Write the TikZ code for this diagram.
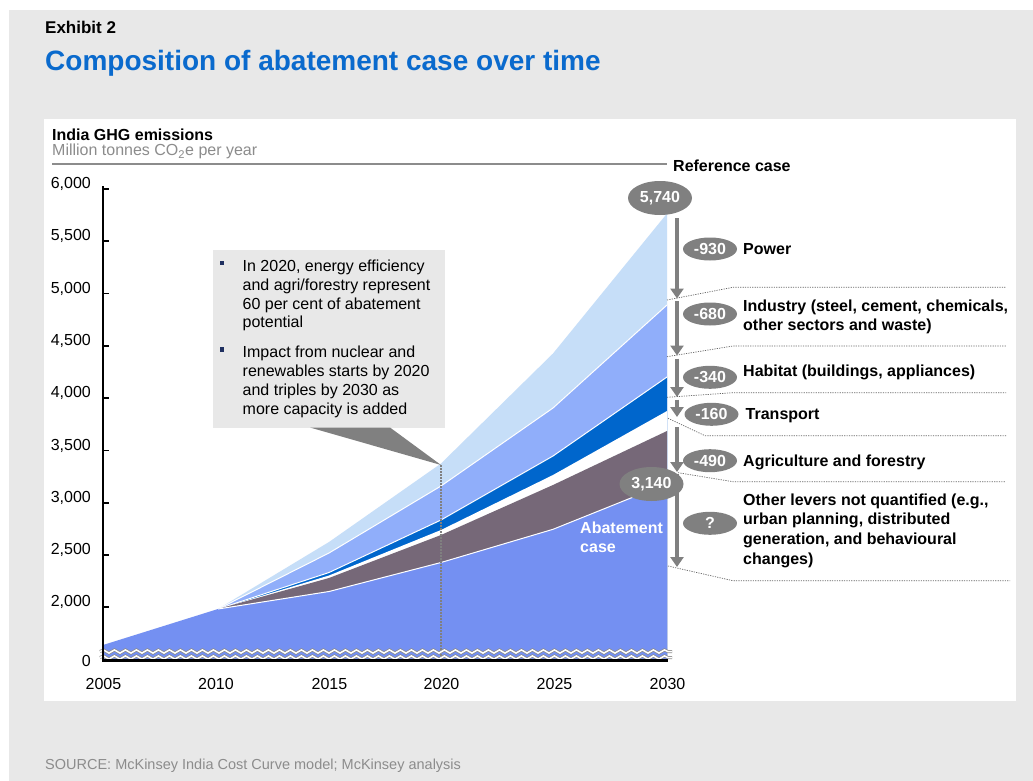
\documentclass[tikz,border=0pt]{standalone}
\usepackage{fontspec}
\setmainfont{Liberation Sans}
\usetikzlibrary{shapes.geometric,arrows.meta,decorations.pathmorphing}
\definecolor{bggray}{HTML}{E8E8E8}
\definecolor{boxgray}{HTML}{E8E8E8}
\definecolor{ltblue}{HTML}{C6DEF8}
\definecolor{midblue}{HTML}{90AEFA}
\definecolor{dkblue}{HTML}{0066CC}
\definecolor{mauve}{HTML}{766878}
\definecolor{abblue}{HTML}{7490F2}
\definecolor{pillgray}{HTML}{808080}
\definecolor{titleblue}{HTML}{0A6ACD}
\definecolor{srcgray}{HTML}{8C8C8C}
\definecolor{navy}{HTML}{1F3060}
\begin{document}
\begin{tikzpicture}[x=1pt,y=-1pt,
  txt/.style={inner sep=0pt, anchor=base west, font=\fontsize{16}{19}\selectfont},
  lbl/.style={txt, font=\fontsize{16}{19}\selectfont\bfseries},
  ytick/.style={inner sep=0pt, anchor=base east, font=\fontsize{16}{19}\selectfont},
  xtick/.style={inner sep=0pt, anchor=base, font=\fontsize{16}{19}\selectfont},
  pill/.style={ellipse, fill=pillgray, text=white, inner sep=0pt, minimum width=54pt, minimum height=23pt, font=\fontsize{16}{19}\selectfont\bfseries},
  bigpill/.style={pill, minimum width=64pt, minimum height=34pt},
  drop/.style={draw=pillgray, line width=4pt, -{Triangle[width=13pt,length=10pt]}},
  guide/.style={draw=black!60, line width=0.7pt, dash pattern=on 1.2pt off 1.2pt},
  sep/.style={draw=white, line width=1pt},
  wave/.style={decorate, decoration={snake, segment length=11pt, amplitude=1.6pt}},
  bullet/.style={fill=navy, minimum size=4.8pt, inner sep=0pt}
]
\useasboundingbox (0,0) rectangle (1033,781);
\fill[white] (0,0) rectangle (1033,781);
\fill[bggray] (9,10) rectangle (1033,781);
\fill[white] (44,119) rectangle (1016,701);

% titles
\node[lbl, font=\fontsize{17}{20}\selectfont\bfseries] (exh) at (45,33.5) {Exhibit 2};
\node[lbl, font=\fontsize{28}{32}\selectfont\bfseries, text=titleblue] (title) at (45,71) {Composition of abatement case over time};
\node[lbl] (ylab) at (52,140) {India GHG emissions};
\node[txt, text=srcgray] (yunit) at (52,156) {Million tonnes CO\textsubscript{2}e per year};
\node[txt, font=\fontsize{14.5}{17}\selectfont, text=srcgray] (src) at (45,769) {SOURCE: McKinsey India Cost Curve model; McKinsey analysis};

% reference line
\coordinate (refL) at (52,164);
\coordinate (refR) at (667,164);
\draw[srcgray, line width=1.6pt] (refL) -- (refR);
\node[lbl] (refcase) at (673,171.5) {Reference case};

% stacked areas
\fill[ltblue] (218,609) -- (329,542) -- (441,463.5) -- (553,353.5) -- (667,213.5) -- (667,660) -- (218,660) -- cycle;
\fill[midblue] (218,609) -- (329,553) -- (441,486) -- (553,408) -- (667,305) -- (667,660) -- (218,660) -- cycle;
\draw[sep] (218,609) -- (329,553) -- (441,486) -- (553,408) -- (667,305);
\fill[dkblue] (218,609) -- (329,572.5) -- (441,520) -- (553,456) -- (667,377) -- (667,660) -- (218,660) -- cycle;
\draw[sep] (218,609) -- (329,572.5) -- (441,520) -- (553,456) -- (667,377);
\fill[white] (218,609) -- (329,575.5) -- (441,530) -- (553,475) -- (667,411) -- (667,660) -- (218,660) -- cycle;
\fill[mauve] (218,609) -- (329,578) -- (441,535) -- (553,485) -- (667,431) -- (667,660) -- (218,660) -- cycle;
\fill[abblue] (103,645) -- (218,609) -- (329,591.5) -- (441,562.5) -- (553,529.3) -- (667,483.5) -- (667,660) -- (103,660) -- cycle;
\draw[sep] (218,609) -- (329,591.5) -- (441,562.5) -- (553,529.3) -- (667,483.5);

% 2020 marker
\coordinate (mkTop) at (441,465);
\coordinate (mkBot) at (441,660);
\draw[black!50, line width=1.3pt, dash pattern=on 1.5pt off 1.5pt] (mkTop) -- (mkBot);

% axis break waves
\draw[wave, black!45, line width=3pt] (100,651.5) -- (672,651.5);
\draw[wave, white, line width=1.5pt] (100,651.5) -- (672,651.5);
\draw[wave, black!45, line width=3pt] (100,657.5) -- (672,657.5);
\draw[wave, white, line width=1.5pt] (100,657.5) -- (672,657.5);

% axes
\coordinate (yTop) at (103,186);
\coordinate (yBot) at (103,661.5);
\coordinate (xR) at (668,660.5);
\draw[black, line width=2pt] (yTop) -- (yBot);
\draw[black, line width=2.6pt] (102,660.5) -- (xR);
\foreach \v/\yy in {6{,}000/189, 5{,}500/241, 5{,}000/293.5, 4{,}500/346, 4{,}000/398, 3{,}500/450.5, 3{,}000/503, 2{,}500/555, 2{,}000/607}{
  \draw[black, line width=1.5pt] (103,\yy) -- (108.5,\yy);
  \node[ytick] at (91,\yy-0.5) {\v};
}
\node[ytick] (y0) at (91,666.5) {0};
\foreach \yr/\xx in {2005/103.5, 2010/216, 2015/329.5, 2020/441.5, 2025/554.5, 2030/667.5}{
  \node[xtick] (yr\yr) at (\xx,689.5) {\yr};
}

% callout
\fill[boxgray] (213,250) rectangle (445,427.5);
\fill[pillgray] (310,427.5) -- (390,427.5) -- (mkTop) -- cycle;
\node[bullet] (b1) at (222,263) {};
\node[bullet] (b2) at (222,349.5) {};
\node[txt] (c1) at (242.5,271) {In 2020, energy efficiency};
\node[txt] (c2) at (242.5,290) {and agri/forestry represent};
\node[txt] (c3) at (242.5,309) {60 per cent of abatement};
\node[txt] (c4) at (242.5,327.5) {potential};
\node[txt] (c5) at (242.5,357.5) {Impact from nuclear and};
\node[txt] (c6) at (242.5,376.5) {renewables starts by 2020};
\node[txt] (c7) at (242.5,395.5) {and triples by 2030 as};
\node[txt] (c8) at (242.5,414.5) {more capacity is added};

% abatement label
\node[lbl, text=white] (ab1) at (580,533.3) {Abatement};
\node[lbl, text=white] (ab2) at (580,552.7) {case};

% guides
\draw[guide] (667,300) -- (733,287.3) -- (1006,287.3);
\draw[guide] (667,356.7) -- (733,346) -- (1006,346);
\draw[guide] (667,397.3) -- (733,392.7) -- (1006,392.7);
\draw[guide] (668,418.3) -- (705,435.7) -- (1006,435.7);
\draw[guide] (678,472.7) -- (733,481.7) -- (1006,481.7);
\draw[guide] (668,566) -- (733,580.7) -- (1010,580.7);

% pills
\node[bigpill] (p5740) at (660,198) {5,740};
\node[bigpill] (p3140) at (651.5,484) {3,140};
\node[pill] (p930) at (710,249) {-930};
\node[pill] (p680) at (710,314) {-680};
\node[pill] (p340) at (710,377.3) {-340};
\node[pill] (p160) at (711.5,414.3) {-160};
\node[pill] (p490) at (710,460.7) {-490};
\node[pill] (pq) at (710,523.3) {?};

% arrows
\coordinate (a1s) at (677,218); \coordinate (a1e) at (677,298.5);
\coordinate (a2s) at (677,301); \coordinate (a2e) at (677,355.5);
\coordinate (a3s) at (677,358.5); \coordinate (a3e) at (677,397);
\coordinate (a4s) at (677,399.5); \coordinate (a4e) at (677,417);
\coordinate (a5s) at (677,427); \coordinate (a5e) at (677,472);
\coordinate (a6s) at (677,474); \coordinate (a6e) at (677,567);
\draw[drop] (a1s) -- (a1e);
\draw[drop] (a2s) -- (a2e);
\draw[drop] (a3s) -- (a3e);
\draw[drop] (a4s) -- (a4e);
\draw[drop] (a5s) -- (a5e);
\draw[drop] (a6s) -- (a6e);

% labels
\node[lbl] (lpow) at (743,254.3) {Power};
\node[lbl] (lind1) at (743,311.7) {Industry (steel, cement, chemicals,};
\node[lbl] (lind2) at (743,330.3) {other sectors and waste)};
\node[lbl] (lhab) at (743,376) {Habitat (buildings, appliances)};
\node[lbl] (ltra) at (745.5,419) {Transport};
\node[lbl] (lagr) at (743,466.7) {Agriculture and forestry};
\node[lbl] (loth1) at (743,505) {Other levers not quantified (e.g.,};
\node[lbl] (loth2) at (743,524.7) {urban planning, distributed};
\node[lbl] (loth3) at (743,544.3) {generation, and behavioural};
\node[lbl] (loth4) at (743,564) {changes)};
\end{tikzpicture}
\end{document}
